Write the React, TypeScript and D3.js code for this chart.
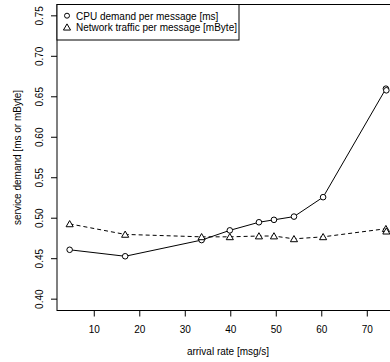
import { useRef, useEffect } from "react";
import * as d3 from "d3";

const arrivalRate = [4.7, 16.9, 33.7, 39.9, 46.3, 49.6, 54.0, 60.4, 74.2, 74.3];
const cpuDemand = [0.461, 0.453, 0.473, 0.485, 0.495, 0.498, 0.502, 0.526, 0.660, 0.658];
const netTraffic = [0.493, 0.480, 0.477, 0.477, 0.478, 0.478, 0.4745, 0.477, 0.487, 0.484];
const xTicks = [10, 20, 30, 40, 50, 60, 70];
const yTicks = [0.4, 0.45, 0.5, 0.55, 0.6, 0.65, 0.7, 0.75];
const legendLabels = ["CPU demand per message [ms]", "Network traffic per message [mByte]"];

const W = 390;
const H = 362;
const FONT = "'Liberation Sans', Arial, Helvetica, sans-serif";

export default function App() {
  const svgRef = useRef<SVGSVGElement>(null);

  useEffect(() => {
    const svg = d3.select(svgRef.current);
    svg.selectAll("*").remove();

    const left = 57;
    const right = 399;
    const top = 4.5;
    const bottom = 310.5;

    const x = d3.scaleLinear().domain([1.92, 77.08]).range([left, right]);
    const y = d3.scaleLinear().domain([0.386, 0.764]).range([bottom, top]);

    const g = svg.append("g").attr("font-family", FONT);

    // plot box
    g.append("rect")
      .attr("x", left)
      .attr("y", top)
      .attr("width", right - left)
      .attr("height", bottom - top)
      .attr("fill", "none")
      .attr("stroke", "#000");

    // x axis
    const xAxis = d3.axisBottom(x).tickValues(xTicks).tickSize(6).tickPadding(9).tickFormat(d3.format("d"));
    const xg = g.append("g").attr("transform", `translate(0,${bottom})`).call(xAxis);
    xg.select(".domain").remove();
    xg.selectAll("text").attr("font-size", 10).attr("font-family", FONT).attr("fill", "#000");

    // y axis, labels rotated like R's default
    const yAxis = d3.axisLeft(y).tickValues(yTicks).tickSize(6).tickFormat(d3.format(".2f"));
    const yg = g.append("g").attr("transform", `translate(${left},0)`).call(yAxis);
    yg.select(".domain").remove();
    yg.selectAll("text")
      .attr("font-size", 10)
      .attr("font-family", FONT)
      .attr("fill", "#000")
      .attr("x", null)
      .attr("dy", null)
      .attr("text-anchor", "middle")
      .attr("transform", (d: any) => `translate(-14,${y(d)}) rotate(-90)`)
      .attr("y", 0);
    yg.selectAll(".tick").attr("transform", null);
    yg.selectAll(".tick line").attr("transform", (d: any) => `translate(0,${y(d)})`);

    // titles
    g.append("text")
      .attr("x", (left + right) / 2)
      .attr("y", 355)
      .attr("text-anchor", "middle")
      .attr("font-size", 10)
      .text("arrival rate [msg/s]");
    g.append("text")
      .attr("transform", `translate(21,${(top + bottom) / 2}) rotate(-90)`)
      .attr("text-anchor", "middle")
      .attr("font-size", 10)
      .text("service demand [ms or mByte]");

    const cpuPts = arrivalRate.map((a, i) => [x(a), y(cpuDemand[i])] as [number, number]);
    const netPts = arrivalRate.map((a, i) => [x(a), y(netTraffic[i])] as [number, number]);
    const line = d3.line();

    g.append("path").attr("d", line(cpuPts)).attr("fill", "none").attr("stroke", "#000");
    g.append("path")
      .attr("d", line(netPts))
      .attr("fill", "none")
      .attr("stroke", "#000")
      .attr("stroke-dasharray", "4,3");

    const tri = d3.symbol().type(d3.symbolTriangle).size(22);

    g.selectAll(".cpu")
      .data(cpuPts)
      .join("circle")
      .attr("cx", (d) => d[0])
      .attr("cy", (d) => d[1])
      .attr("r", 2.8)
      .attr("fill", "#fff")
      .attr("stroke", "#000");

    g.selectAll(".net")
      .data(netPts)
      .join("path")
      .attr("d", tri)
      .attr("transform", (d) => `translate(${d[0]},${d[1] + 0.8})`)
      .attr("fill", "#fff")
      .attr("stroke", "#000");

    // legend
    const lg = g.append("g");
    lg.append("rect")
      .attr("x", left)
      .attr("y", top)
      .attr("width", 182)
      .attr("height", 35.5)
      .attr("fill", "#fff")
      .attr("stroke", "#000");
    lg.append("circle").attr("cx", 67).attr("cy", 15.7).attr("r", 2.5).attr("fill", "#fff").attr("stroke", "#000");
    lg.append("path")
      .attr("d", tri)
      .attr("transform", "translate(67,28)")
      .attr("fill", "#fff")
      .attr("stroke", "#000");
    legendLabels.forEach((t, i) => {
      lg.append("text")
        .attr("x", 76)
        .attr("y", 19.5 + i * 11.5)
        .attr("font-size", 10)
        .text(t);
    });
  }, []);

  return (
    <svg
      ref={svgRef}
      width={W}
      height={H}
      style={{ position: "absolute", left: 0, top: 0, background: "#fff" }}
    />
  );
}
